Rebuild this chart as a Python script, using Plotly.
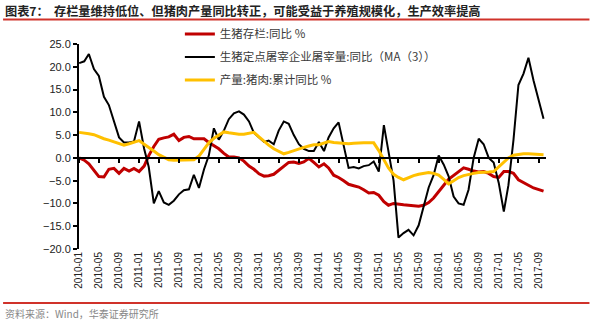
import plotly.graph_objects as go
import pandas as pd

# ---------------- data ----------------
months = [d.strftime("%Y-%m") for d in pd.date_range("2010-01-01", "2017-10-01", freq="MS")]
tick_labels = months[::4]

stock_yoy = [  # 生猪存栏:同比 %
    0.0, -0.5, -1.3, -2.8, -4.1, -4.2, -2.5, -2.3, -3.4, -2.3, -2.9, -2.3,
    -3.0, -1.8, 0.5, 2.5, 4.1, 4.4, 4.6, 5.2, 3.8, 4.5, 4.7, 4.2,
    4.2, 4.2, 3.4, 2.7, 2.0, 1.0, 0.2, 0.2, 0.0, -0.7, -1.8, -2.5,
    -3.5, -4.0, -3.9, -3.6, -2.8, -1.9, -1.0, -0.9, -1.2, -0.9, -0.1, -1.0,
    -2.0, -1.3, -2.2, -3.8, -4.3, -5.0, -5.8, -6.1, -6.4, -7.0, -7.7, -7.6,
    -8.2, -9.6, -10.4, -10.0, -10.2, -10.3, -10.4, -10.5, -10.6, -10.4, -9.8, -8.8,
    -7.5, -6.0, -4.7, -3.8, -3.0, -2.2, -2.5, -2.9, -3.1, -3.0, -3.4, -4.1,
    -4.3, -3.0, -3.0, -3.4, -4.8, -5.5, -6.0, -6.6, -7.0, -7.3,
]
slaughter_yoy_ma3 = [  # 生猪定点屠宰企业屠宰量:同比（MA（3））
    20.8, 21.2, 22.8, 19.5, 18.0, 13.4, 11.6, 8.0, 4.5, 3.4, 3.4, 3.6,
    8.0, 2.0, -2.0, -10.0, -7.3, -9.8, -10.3, -9.4, -8.0, -7.1, -6.9, -3.7,
    -6.6, -2.5, 0.5, 6.5, 4.0, 6.0, 8.5, 9.8, 10.2, 9.5, 8.0, 5.5,
    4.5, 3.5, 3.8, 3.0, 6.0, 8.0, 7.5, 5.0, 3.0, 2.0, 1.5, 1.5,
    3.5, 1.5, 4.5, 6.5, 7.8, 2.5, -2.2, -2.0, -2.3, -1.8, -1.6, -0.8,
    -3.0, 7.2, 1.5, -5.0, -17.5, -16.5, -15.8, -17.0, -14.8, -10.8, -6.5, -3.8,
    0.5, -1.5, -4.0, -8.5, -10.0, -10.3, -7.0, 0.0, 4.2, 3.0, 0.0, -1.0,
    -5.5, -11.8, -6.0, 4.0, 16.0, 18.5, 22.0, 17.0, 12.5, 8.6,
]
pork_output_cum_yoy = [  # 产量:猪肉:累计同比 %
    5.6, 5.5, 5.3, 5.1, 4.6, 4.2, 3.9, 3.5, 3.1, 2.8, 3.1, 3.5,
    3.8, 3.0, 2.2, 1.5, 0.7, 0.1, -0.4, -0.5, -0.5, -0.5, -0.5, -0.4,
    0.4, 2.0, 3.3, 4.3, 5.0, 5.7, 5.5, 5.3, 5.2, 5.2, 5.4, 5.6,
    4.6, 3.6, 2.8, 2.0, 1.4, 0.9, 1.2, 1.6, 1.9, 2.3, 2.6, 2.9,
    2.9, 3.3, 3.6, 3.4, 3.3, 3.1, 3.1, 3.2, 3.3, 3.3, 3.3, 3.3,
    1.6, -0.5, -2.2, -3.6, -4.3, -4.8, -4.3, -3.9, -3.6, -3.4, -3.2, -3.4,
    -3.8, -4.7, -5.7, -5.0, -4.3, -3.9, -3.6, -3.4, -3.2, -3.2, -3.1, -3.0,
    -1.9, -0.8, 0.0, 0.6, 0.8, 0.9, 0.9, 0.85, 0.8, 0.7,
]
series_names = [
    "生猪存栏:同比 %",
    "生猪定点屠宰企业屠宰量:同比（MA（3））",
    "产量:猪肉:累计同比 %",
]
series_colors = ["#C00000", "#000000", "#FFC000"]
series_widths = [3, 2, 3]
y_ticks = [25, 20, 15, 10, 5, 0, -5, -10, -15, -20]

# ---------------- figure ----------------
dates = pd.to_datetime([m + "-01" for m in months])
fig = go.Figure()
for i, (vals, name) in enumerate(zip([stock_yoy, slaughter_yoy_ma3, pork_output_cum_yoy], series_names)):
    fig.add_trace(go.Scatter(
        x=dates, y=vals, mode="lines", name=name,
        line=dict(color=series_colors[i], width=series_widths[i]),
        legendgroup=f"g{i}",
    ))

x_range = ["2009-12-31", "2017-10-16"]
tickvals = pd.to_datetime([t + "-01" for t in tick_labels])

fig.update_layout(
    width=600, height=322,
    margin=dict(l=79, r=54, t=44, b=73),
    paper_bgcolor="white", plot_bgcolor="white",
    showlegend=True,
    legend=dict(
        x=0.216, y=1.12, xanchor="left", yanchor="top",
        bgcolor="rgba(0,0,0,0)",
        font=dict(family="Noto Sans CJK SC", size=11.5, color="#3a3a3a"),
        tracegroupgap=4, traceorder="grouped",
    ),
    xaxis=dict(
        type="date", range=x_range,
        tickmode="array", tickvals=tickvals, ticktext=tick_labels,
        tickangle=-90, showline=False, showgrid=False, zeroline=False, ticks="",
        tickfont=dict(family="Arial, Liberation Sans", size=10, color="#222222"),
    ),
    xaxis2=dict(
        type="date", range=x_range, overlaying="x", anchor="free", position=20 / 45,
        tickmode="array", tickvals=tickvals, showticklabels=False,
        showline=True, linecolor="#000000", linewidth=2,
        ticks="outside", ticklen=4, tickwidth=1.5, tickcolor="#000000",
        showgrid=False, zeroline=False,
    ),
    yaxis=dict(
        range=[-20, 25], tickmode="array", tickvals=y_ticks, tickformat=".1f",
        showline=True, linecolor="#000000", linewidth=2,
        ticks="outside", ticklen=4, tickwidth=1.5, tickcolor="#000000",
        showgrid=False, zeroline=False,
        tickfont=dict(family="Arial, Liberation Sans", size=11, color="#222222"),
    ),
)
# invisible trace to activate xaxis2
fig.add_trace(go.Scatter(x=[dates[0]], y=[None], xaxis="x2", showlegend=False, hoverinfo="skip"))

# title and source
fig.add_annotation(text="<b>图表7：</b>", xref="paper", yref="paper", x=0, y=1, showarrow=False,
                   xanchor="left", yanchor="middle", xshift=-76, yshift=33,
                   font=dict(family="Noto Sans CJK SC", size=12.2, color="#222222"))
fig.add_annotation(text="<b>存栏量维持低位、但猪肉产量同比转正，可能受益于养殖规模化，生产效率提高</b>",
                   xref="paper", yref="paper", x=0, y=1, showarrow=False,
                   xanchor="left", yanchor="middle", xshift=-27, yshift=33,
                   font=dict(family="Noto Sans CJK SC", size=12.2, color="#222222"))
fig.add_annotation(text="资料来源：Wind，华泰证券研究所", xref="paper", yref="paper", x=0, y=0,
                   showarrow=False, xanchor="left", yanchor="middle", xshift=-76, yshift=-64,
                   font=dict(family="Noto Sans CJK SC", size=10, color="#888888"))
# red rules
fig.add_shape(type="line", xref="paper", yref="paper", x0=-76 / 467.5, x1=511 / 467.5,
              y0=1 + 24.5 / 205, y1=1 + 24.5 / 205, line=dict(color="#D0322A", width=2))
fig.add_shape(type="line", xref="paper", yref="paper", x0=-76 / 467.5, x1=511 / 467.5,
              y0=-54 / 205, y1=-54 / 205, line=dict(color="#D0322A", width=2))

fig.write_html("out.html")
